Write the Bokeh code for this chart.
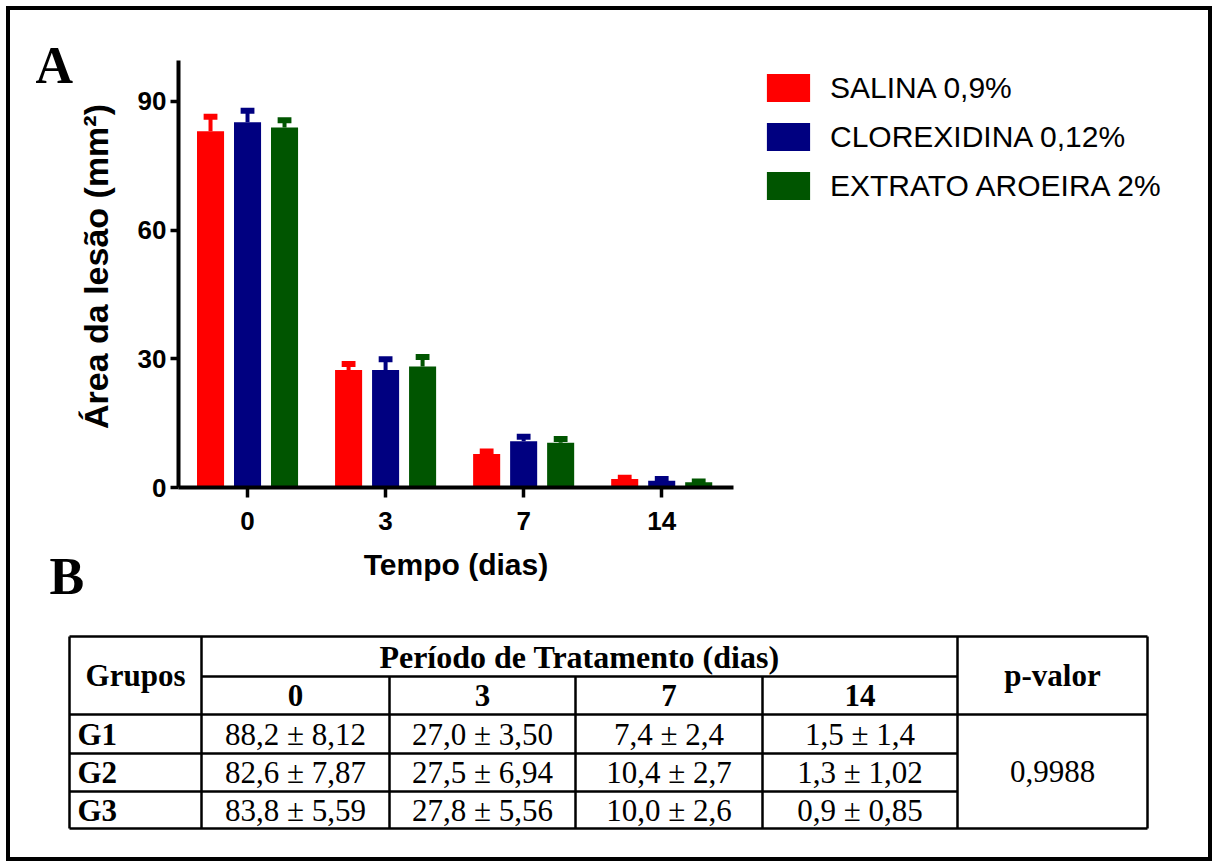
import math
from bokeh.plotting import figure
from bokeh.models import Range1d, FixedTicker, Legend, LegendItem
from bokeh.layouts import column, row
from bokeh.embed import file_html
from bokeh.resources import INLINE
from bokeh.core.properties import value

# ---------------- data ----------------
days = ["0", "3", "7", "14"]
series = ["SALINA 0,9%", "CLOREXIDINA 0,12%", "EXTRATO AROEIRA 2%"]
colors = ["#FF0000", "#000080", "#005500"]

salina = [83.0, 27.4, 7.8, 2.0]
salina_err = [3.4, 1.4, 0.6, 0.3]
clorex = [85.1, 27.4, 10.8, 1.6]
clorex_err = [2.7, 2.5, 1.0, 0.4]
aroeira = [83.9, 28.2, 10.4, 1.2]
aroeira_err = [1.7, 2.2, 0.9, 0.2]

y_ticks = [0, 30, 60, 90]
x_title = "Tempo (dias)"
y_title = "Área da lesão (mm²)"

table_groups = ["G1", "G2", "G3"]
table_days = ["0", "3", "7", "14"]
table_g1 = ["88,2 ± 8,12", "27,0 ± 3,50", "7,4 ± 2,4", "1,5 ± 1,4"]
table_g2 = ["82,6 ± 7,87", "27,5 ± 6,94", "10,4 ± 2,7", "1,3 ± 1,02"]
table_g3 = ["83,8 ± 5,59", "27,8 ± 5,56", "10,0 ± 2,6", "0,9 ± 0,85"]
p_valor = "0,9988"

SANS = "Liberation Sans"
SERIF = "Liberation Serif"

# page-pixel layout (content box starts at 10,10 inside the border)
X0, Y0, X1, Y1 = 10, 10, 1208, 857
SPLIT_X, CHART_R, SPLIT_Y = 120, 743, 610


def blank(width, height, xr, yr):
    f = figure(width=width, height=height, x_range=xr, y_range=yr,
               output_backend="svg", toolbar_location=None, min_border=0,
               x_axis_location=None, y_axis_location=None, frame_align=False)
    f.outline_line_color = None
    f.grid.visible = False
    return f


# ---------------- left strip: panel letters + y title ----------------
left = blank(SPLIT_X - X0, SPLIT_Y - Y0, Range1d(X0, SPLIT_X), Range1d(SPLIT_Y, Y0))
left.text(x=[35, 49], y=[65, 576], text=["A", "B"], text_font=value(SERIF),
          text_font_style="bold", text_font_size="52px", text_align="left",
          text_baseline="middle", text_color="black")
left.text(x=[95], y=[266], text=[y_title], angle=math.pi / 2, text_font=value(SANS),
          text_font_style="bold", text_font_size="34px", text_align="center",
          text_baseline="middle", text_color="black")

# ---------------- bar chart ----------------
top = figure(width=CHART_R - SPLIT_X, height=SPLIT_Y - Y0,
             x_range=Range1d(-0.5, 3.52), y_range=Range1d(0, 99.5),
             output_backend="svg", toolbar_location=None, frame_align=False,
             min_border_left=58, min_border_right=10, min_border_top=50, min_border_bottom=123)
top.outline_line_color = None
top.grid.visible = False

means = [salina, clorex, aroeira]
errs = [salina_err, clorex_err, aroeira_err]
offsets = [-0.268, 0.0, 0.268]
bar_w = 0.196
for m, e, c, off in zip(means, errs, colors, offsets):
    xs = [i + off for i in range(len(days))]
    tops = [mv + ev for mv, ev in zip(m, e)]
    top.segment(x0=xs, y0=m, x1=xs, y1=tops, line_color=c, line_width=4)
    top.rect(x=xs, y=tops, width=0.1, height=6, height_units="screen", fill_color=c, line_color=None)
    top.vbar(x=xs, top=m, bottom=0, width=bar_w, fill_color=c, line_color=None)

xa = top.xaxis[0]
xa.ticker = FixedTicker(ticks=list(range(len(days))))
xa.major_label_overrides = {i: d for i, d in enumerate(days)}
xa.axis_label = x_title
ya = top.yaxis[0]
ya.ticker = FixedTicker(ticks=y_ticks)

for ax in (xa, ya):
    ax.axis_line_width = 4
    ax.axis_line_color = "black"
    ax.major_tick_line_width = 3.5
    ax.major_tick_line_color = "black"
    ax.minor_tick_line_color = None
    ax.major_tick_in = 0
    ax.major_label_text_font = SANS
    ax.major_label_text_font_style = "bold"
    ax.major_label_text_font_size = "26px"
    ax.major_label_text_color = "black"
    ax.axis_label_text_font = SANS
    ax.axis_label_text_font_style = "bold"
    ax.axis_label_text_color = "black"

xa.major_tick_out = 10
xa.major_label_standoff = 14
xa.axis_label_text_font_size = "30px"
xa.axis_label_standoff = 15
ya.major_tick_out = 8
ya.major_label_standoff = 4

# ---------------- legend panel ----------------
# swatch renderers sit outside the visible range; only their legend glyphs show
leg = blank(X1 - CHART_R, SPLIT_Y - Y0, Range1d(0, 1), Range1d(0, 1))
leg_renderers = [leg.vbar(x=[5], top=[6], bottom=[5], width=0.1, fill_color=c, line_color=None)
                 for c in colors]
legend = Legend(items=[LegendItem(label=s, renderers=[r]) for s, r in zip(series, leg_renderers)],
                location=(18, 407), glyph_width=54, glyph_height=35, label_height=35,
                label_standoff=15, spacing=14, padding=0, margin=0,
                border_line_color=None, background_fill_alpha=0,
                label_text_font=SANS, label_text_font_size="30px", label_text_color="black")
leg.add_layout(legend)

# ---------------- table ----------------
bot = blank(X1 - X0, Y1 - SPLIT_Y, Range1d(X0, X1), Range1d(Y1, SPLIT_Y))

col_edges = [69, 201, 389, 575, 762, 957, 1147]
row_edges = [636, 676, 714, 753, 791, 828]
L, R = col_edges[0], col_edges[-1]
T, B = row_edges[0], row_edges[-1]

hx0 = [L, col_edges[1], L, L, L, L]
hx1 = [R, col_edges[5], R, col_edges[5], col_edges[5], R]
hy = row_edges
bot.segment(x0=hx0, y0=hy, x1=hx1, y1=hy, line_color="black", line_width=2.5)
vx = [L, col_edges[1], col_edges[5], R, col_edges[2], col_edges[3], col_edges[4]]
vy0 = [T, T, T, T, row_edges[1], row_edges[1], row_edges[1]]
vy1 = [B] * 7
bot.segment(x0=vx, y0=vy0, x1=vx, y1=vy1, line_color="black", line_width=2.5)


def cx(i):
    return (col_edges[i] + col_edges[i + 1]) / 2


def cy(j):
    return (row_edges[j] + row_edges[j + 1]) / 2


bot.text(x=[(col_edges[1] + col_edges[5]) / 2], y=[cy(0)], text=["Período de Tratamento (dias)"],
         text_font=value(SERIF), text_font_style="bold", text_font_size="32px",
         text_align="center", text_baseline="middle", text_color="black")
bold_x = [cx(0), cx(5)] + [cx(i + 1) for i in range(4)]
bold_y = [(row_edges[0] + row_edges[2]) / 2] * 2 + [cy(1)] * 4
bold_t = ["Grupos", "p-valor"] + table_days
bot.text(x=bold_x, y=bold_y, text=bold_t, text_font=value(SERIF), text_font_style="bold",
         text_font_size="31px", text_align="center", text_baseline="middle", text_color="black")

bot.text(x=[L + 8] * 3, y=[cy(2), cy(3), cy(4)], text=table_groups, text_font=value(SERIF),
         text_font_style="bold", text_font_size="31px", text_align="left", text_baseline="middle",
         text_color="black")

vals_x, vals_y, vals_t = [], [], []
for j, row_vals in enumerate([table_g1, table_g2, table_g3]):
    for i, t in enumerate(row_vals):
        vals_x.append(cx(i + 1))
        vals_y.append(cy(j + 2))
        vals_t.append(t)
vals_x.append(cx(5))
vals_y.append((row_edges[2] + row_edges[5]) / 2)
vals_t.append(p_valor)
bot.text(x=vals_x, y=vals_y, text=vals_t, text_font=value(SERIF), text_font_size="31px",
         text_align="center", text_baseline="middle", text_color="black")

layout = column(row(left, top, leg, spacing=0), bot, spacing=0,
                styles={"border": "4px solid black", "margin": "6px"})
open("out.html", "w").write(file_html(layout, INLINE))
